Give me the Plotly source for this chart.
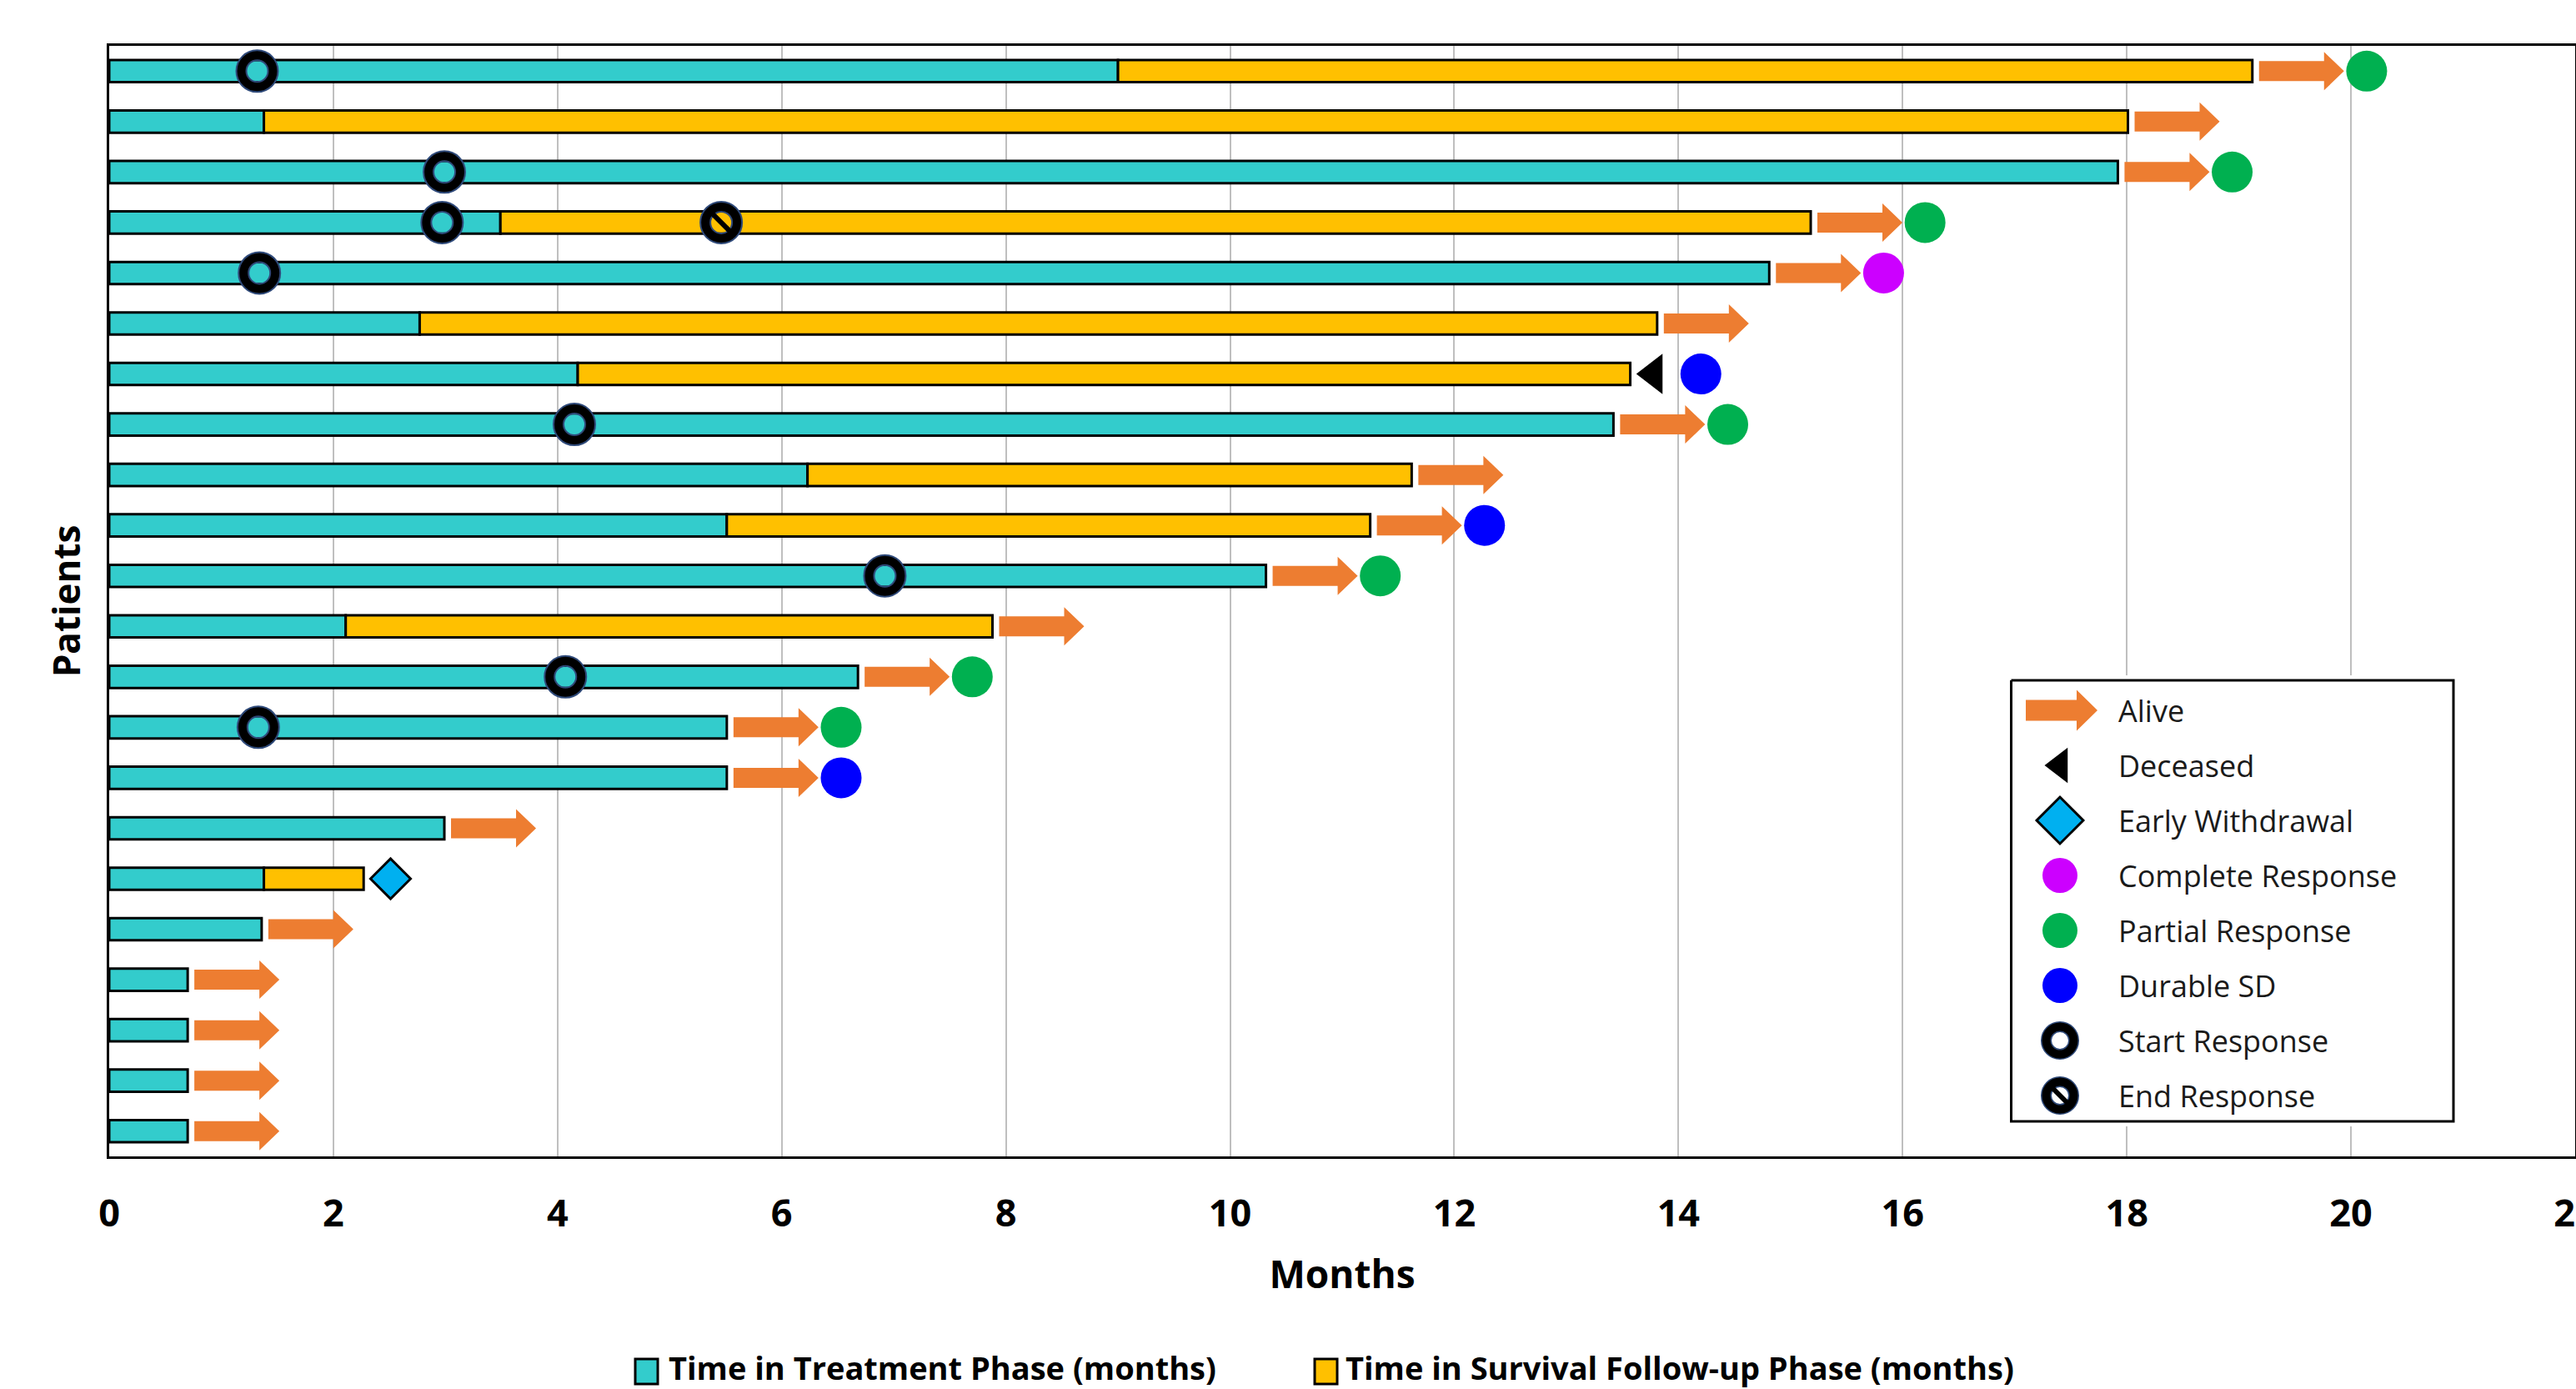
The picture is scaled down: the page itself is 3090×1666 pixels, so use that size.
import plotly.graph_objects as go

# ---------------- data ----------------
patients = list(range(1, 23))  # 1 = top row
treatment_months = [9.00, 1.38, 17.92, 3.49, 14.81, 2.77, 4.18, 13.42, 6.23, 5.51, 10.32,
                    2.11, 6.68, 5.51, 5.51, 2.99, 1.38, 1.36, 0.70, 0.70, 0.70, 0.70]
followup_months = [10.12, 16.63, 0, 11.69, 0, 11.04, 9.39, 0, 5.39, 5.74, 0,
                   5.77, 0, 0, 0, 0, 0.89, 0, 0, 0, 0, 0]
status = ["Alive", "Alive", "Alive", "Alive", "Alive", "Alive", "Deceased", "Alive", "Alive",
          "Alive", "Alive", "Alive", "Alive", "Alive", "Alive", "Alive", "Early Withdrawal",
          "Alive", "Alive", "Alive", "Alive", "Alive"]
response = ["PR", None, "PR", "PR", "CR", None, "SD", "PR", None, "SD", "PR",
            None, "PR", "PR", "SD", None, None, None, None, None, None, None]
start_resp_patients = [1, 3, 4, 5, 8, 11, 13, 14]
start_resp_months = [1.32, 2.99, 2.97, 1.34, 4.15, 6.92, 4.07, 1.33]
end_resp_patients = [4]
end_resp_months = [5.46]

x_ticks = list(range(0, 23, 2))

# ---------------- styling ----------------
TEAL = "#33CCCC"
YELLOW = "#FFC000"
ORANGE = "#ED7D31"
GREEN = "#00B050"
BLUE = "#0000FF"
MAGENTA = "#CC00FF"
CYAN = "#00B0F0"
NAVY = "#2F4A7A"
FONT = "Open Sans"

W, H = 3090, 1666
ML, MR, MT, MB = 131, 1, 55, 279
PW, PH = W - ML - MR, H - MT - MB


def pxx(px):
    return (px - ML) / PW


def pxy(py):
    return (H - MB - py) / PH


ROW_PX = PH / 22.0
MONTH_PX = PW / 22.0

fig = go.Figure()

# stacked bars
fig.add_trace(go.Bar(
    y=patients, x=treatment_months, orientation="h", width=0.44,
    marker=dict(color=TEAL, line=dict(color="black", width=3)),
    name="Time in Treatment Phase (months)", showlegend=False, hoverinfo="x"))
fig.add_trace(go.Bar(
    y=patients, x=[f if f > 0 else None for f in followup_months], orientation="h",
    width=0.44, base=treatment_months,
    marker=dict(color=YELLOW, line=dict(color="black", width=3)),
    name="Time in Survival Follow-up Phase (months)", showlegend=False, hoverinfo="x"))

# arrows (alive)
GAP = 8 / MONTH_PX
ALEN = 102 / MONTH_PX
HEAD = 24 / MONTH_PX
SH = 12 / ROW_PX
HH = 23 / ROW_PX
ax, ay = [], []
ends = [t + f for t, f in zip(treatment_months, followup_months)]
for p, e, s in zip(patients, ends, status):
    if s != "Alive":
        continue
    x0 = e + GAP
    x1 = x0 + ALEN
    xh = x1 - HEAD
    ax += [x0, xh, xh, x1, xh, xh, x0, x0, None]
    ay += [p - SH, p - SH, p - HH, p, p + HH, p + SH, p + SH, p - SH, None]
fig.add_trace(go.Scatter(x=ax, y=ay, mode="lines", fill="toself", fillcolor=ORANGE,
                         line=dict(width=0, color=ORANGE), showlegend=False, hoverinfo="skip"))

# deceased / withdrawal markers
dec_x = [e + 0.21 for e, s in zip(ends, status) if s == "Deceased"]
dec_y = [p for p, s in zip(patients, status) if s == "Deceased"]
fig.add_trace(go.Scatter(x=dec_x, y=dec_y, mode="markers",
                         marker=dict(symbol="triangle-left", size=42, color="black"),
                         showlegend=False))
wd_x = [e + 0.24 for e, s in zip(ends, status) if s == "Early Withdrawal"]
wd_y = [p for p, s in zip(patients, status) if s == "Early Withdrawal"]
fig.add_trace(go.Scatter(x=wd_x, y=wd_y, mode="markers",
                         marker=dict(symbol="diamond", size=37, color=CYAN,
                                     line=dict(color="black", width=3)),
                         showlegend=False))

# response dots
resp_colors = {"CR": MAGENTA, "PR": GREEN, "SD": BLUE}
for code, col in resp_colors.items():
    xs, ys = [], []
    for p, e, s, r in zip(patients, ends, status, response):
        if r == code:
            xs.append(e + (1.02 if s == "Alive" else 0.63))
            ys.append(p)
    fig.add_trace(go.Scatter(x=xs, y=ys, mode="markers",
                             marker=dict(symbol="circle", size=49, color=col),
                             showlegend=False))

# start / end response rings (open symbols take their stroke colour from marker.color)
for xs, ys in ((start_resp_months, start_resp_patients), (end_resp_months, end_resp_patients)):
    fig.add_trace(go.Scatter(x=xs, y=ys, mode="markers", showlegend=False,
                             marker=dict(symbol="circle-open", size=38, color=NAVY,
                                         line=dict(width=14))))
    fig.add_trace(go.Scatter(x=xs, y=ys, mode="markers", showlegend=False,
                             marker=dict(symbol="circle-open", size=38, color="black",
                                         line=dict(width=10))))
fig.add_trace(go.Scatter(x=end_resp_months, y=end_resp_patients, mode="markers", showlegend=False,
                         marker=dict(symbol="line-nw", size=30, color="black",
                                     line=dict(color="black", width=6))))

# ---------------- custom marker legend (right box) ----------------
BX0, BX1, BY0, BY1 = 2412.5, 2943, 816, 1345
PAD = 6
bw, bh = BX1 - BX0, BY1 - BY0
fig.add_trace(go.Scatter(x=[0, bw, bw, 0, 0], y=[0, 0, bh, bh, 0], mode="lines",
                         fill="toself", fillcolor="white", line=dict(color="black", width=3),
                         xaxis="x2", yaxis="y2", showlegend=False, hoverinfo="skip"))
leg_labels = ["Alive", "Deceased", "Early Withdrawal", "Complete Response",
              "Partial Response", "Durable SD", "Start Response", "End Response"]
leg_y = [36 + 66 * i for i in range(8)]
SX = 58.5
# arrow
lx0, lx1, lxh = 17.5, 103.5, 78.5
fig.add_trace(go.Scatter(
    x=[lx0, lxh, lxh, lx1, lxh, lxh, lx0, lx0],
    y=[leg_y[0] - 12.5, leg_y[0] - 12.5, leg_y[0] - 24.5, leg_y[0], leg_y[0] + 24.5,
       leg_y[0] + 12.5, leg_y[0] + 12.5, leg_y[0] - 12.5],
    mode="lines", fill="toself", fillcolor=ORANGE, line=dict(width=0, color=ORANGE),
    xaxis="x2", yaxis="y2", showlegend=False, hoverinfo="skip"))
leg_markers = [
    (leg_y[1], dict(symbol="triangle-left", size=37, color="black")),
    (leg_y[2], dict(symbol="diamond", size=43, color=CYAN, line=dict(color="black", width=3))),
    (leg_y[3], dict(symbol="circle", size=42, color=MAGENTA)),
    (leg_y[4], dict(symbol="circle", size=42, color=GREEN)),
    (leg_y[5], dict(symbol="circle", size=42, color=BLUE)),
    (leg_y[6], dict(symbol="circle-open", size=33, color=NAVY, line=dict(width=13))),
    (leg_y[6], dict(symbol="circle-open", size=33, color="black", line=dict(width=10))),
    (leg_y[7], dict(symbol="circle-open", size=33, color=NAVY, line=dict(width=13))),
    (leg_y[7], dict(symbol="circle-open", size=33, color="black", line=dict(width=10))),
    (leg_y[7], dict(symbol="line-nw", size=26, color="black", line=dict(color="black", width=6))),
]
for yy, mk in leg_markers:
    fig.add_trace(go.Scatter(x=[SX], y=[yy], mode="markers", marker=mk,
                             xaxis="x2", yaxis="y2", showlegend=False, hoverinfo="skip",
                             cliponaxis=False))

annotations = []
for lab, yy in zip(leg_labels, leg_y):
    annotations.append(dict(x=126, y=yy, xref="x2", yref="y2", text=lab, showarrow=False,
                            xanchor="left", yanchor="middle",
                            font=dict(family=FONT, size=36, color="#1a1a1a")))

# ---------------- bottom legend (bars) ----------------
shapes = []
for (rx0, rx1, tx, lab, col) in [
        (762, 789, 800, "Time in Treatment Phase (months)", TEAL),
        (1577, 1604, 1612, "Time in Survival Follow-up Phase (months)", YELLOW)]:
    shapes.append(dict(type="rect", xref="paper", yref="paper",
                       x0=pxx(rx0), x1=pxx(rx1), y0=pxy(1660), y1=pxy(1630),
                       fillcolor=col, line=dict(color="black", width=3)))
    annotations.append(dict(x=pxx(tx), y=pxy(1640), xref="paper", yref="paper", text=lab,
                            showarrow=False, xanchor="left", yanchor="middle",
                            font=dict(family=FONT, size=38, color="black", weight=700)))

fig.update_layout(
    width=W, height=H,
    margin=dict(l=ML, r=MR, t=MT, b=MB, pad=0, autoexpand=False),
    paper_bgcolor="white", plot_bgcolor="white",
    barmode="overlay", showlegend=False,
    font=dict(family=FONT, color="black"),
    xaxis=dict(range=[0, 22], tickvals=x_ticks, ticktext=[str(v) for v in x_ticks],
               automargin=False,
               showgrid=True, gridcolor="#BFBFBF", gridwidth=2, zeroline=False,
               showline=True, linecolor="black", linewidth=3, mirror=True,
               ticks="", ticklabelstandoff=27, ticklabeloverflow="allow",
               tickfont=dict(family=FONT, size=45, color="black", weight=700),
               title=dict(text="Months", standoff=30,
                          font=dict(family=FONT, size=46, color="black", weight=700))),
    yaxis=dict(range=[22.5, 0.5], showticklabels=False, showgrid=False, zeroline=False,
               automargin=False,
               showline=True, linecolor="black", linewidth=3, mirror=True, ticks="",
               title=dict(text="Patients", standoff=18,
                          font=dict(family=FONT, size=44, color="black", weight=700))),
    xaxis2=dict(domain=[pxx(BX0 - PAD), pxx(BX1 + PAD)], range=[-PAD, bw + PAD],
                visible=False, anchor="y2", fixedrange=True),
    yaxis2=dict(domain=[pxy(BY1 + PAD), pxy(BY0 - PAD)], range=[bh + PAD, -PAD],
                visible=False, anchor="x2", fixedrange=True),
    shapes=shapes,
    annotations=annotations,
)

fig.write_html("out.html")
